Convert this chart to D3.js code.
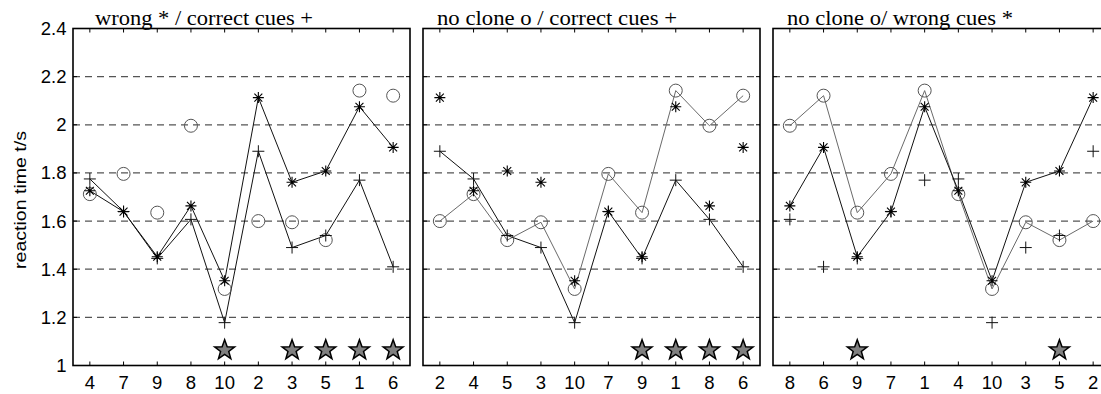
<!DOCTYPE html>
<html>
<head>
<meta charset="utf-8">
<script src="https://cdn.jsdelivr.net/npm/d3@7"></script>
<style>
  body { margin: 0; background: #fff; }
  svg { display: block; }
</style>
</head>
<body>
<svg id="chart" width="1101" height="394"></svg>
<script>
// reaction times per subject (subject id -> seconds)
const subjects = [1, 2, 3, 4, 5, 6, 7, 8, 9, 10];
const correctCues = [1.77, 1.89, 1.49, 1.775, 1.54, 1.41, 1.64, 1.607, 1.445, 1.178];
const wrongCues = [2.075, 2.113, 1.761, 1.726, 1.808, 1.906, 1.639, 1.663, 1.452, 1.352];
const noClone = [2.142, 1.60, 1.595, 1.712, 1.521, 2.121, 1.796, 1.996, 1.635, 1.318];

// subject order and significance marks for each panel
const panelTitles = ["wrong * / correct cues +", "no clone o / correct cues +", "no clone o/ wrong cues *"];
const panelOrders = [
    [4, 7, 9, 8, 10, 2, 3, 5, 1, 6],
    [2, 4, 5, 3, 10, 7, 9, 1, 8, 6],
    [8, 6, 9, 7, 1, 4, 10, 3, 5, 2],
];
const panelStars = [
    [10, 3, 5, 1, 6],
    [9, 1, 8, 6],
    [9, 5],
];
// which series are joined by a line in each panel
const panelLines = [
    ["correct", "wrong"],
    ["noclone", "correct"],
    ["noclone", "wrong"],
];
const yTicks = [1, 1.2, 1.4, 1.6, 1.8, 2, 2.2, 2.4];
const gridValues = [1.2, 1.4, 1.6, 1.8, 2, 2.2];
const starLevel = 1.068;

const series = {
    correct: correctCues,
    wrong: wrongCues,
    noclone: noClone,
};

const svg = d3.select("#chart");
const plotTop = 28.5;
const plotBottom = 365.5;
const panelWidth = 337;
const panelLefts = [73, 423, 773];

const y = d3.scaleLinear().domain([1, 2.4]).range([plotBottom, plotTop]);

const valueOf = (key, s) => series[key][subjects.indexOf(s)];

const plusPath = (r) => `M${-r},0H${r}M0,${-r}V${r}`;
const asteriskPath = (r) => {
    const d = r * 0.72;
    return `M${-r},0H${r}M0,${-r}V${r}M${-d},${-d}L${d},${d}M${-d},${d}L${d},${-d}`;
};
const starPath = (R, r) => {
    let p = "";
    for (let i = 0; i < 10; i++) {
        const a = -Math.PI / 2 + (i * Math.PI) / 5;
        const rad = i % 2 === 0 ? R : r;
        p += (i === 0 ? "M" : "L") + (rad * Math.cos(a)).toFixed(2) + "," + (rad * Math.sin(a)).toFixed(2);
    }
    return p + "Z";
};

const lineColour = { correct: "#111", wrong: "#111", noclone: "#6a6a6a" };

panelOrders.forEach((order, p) => {
    const left = panelLefts[p];
    const x = d3.scalePoint().domain(order).range([left, left + panelWidth]).padding(0.5);
    const g = svg.append("g");

    // dashed grid
    g.selectAll(".grid")
        .data(gridValues)
        .join("line")
        .attr("x1", left)
        .attr("x2", left + panelWidth)
        .attr("y1", (d) => y(d))
        .attr("y2", (d) => y(d))
        .attr("stroke", "#555")
        .attr("stroke-width", 1.3)
        .attr("stroke-dasharray", "7,5");

    // inner ticks on all four sides
    g.selectAll(".xt")
        .data(order)
        .join("path")
        .attr("d", (d) => `M${x(d)},${plotTop}v4M${x(d)},${plotBottom}v-4`)
        .attr("stroke", "#000")
        .attr("stroke-width", 1);
    g.selectAll(".yt")
        .data(yTicks)
        .join("path")
        .attr("d", (d) => `M${left},${y(d)}h4M${left + panelWidth},${y(d)}h-4`)
        .attr("stroke", "#000")
        .attr("stroke-width", 1);

    // connecting lines
    const line = d3.line().x((d) => x(d.s)).y((d) => y(d.v));
    panelLines[p].forEach((key) => {
        g.append("path")
            .datum(order.map((s) => ({ s, v: valueOf(key, s) })))
            .attr("d", line)
            .attr("fill", "none")
            .attr("stroke", lineColour[key])
            .attr("stroke-width", 1);
    });

    // markers
    g.selectAll(".circ")
        .data(order)
        .join("circle")
        .attr("cx", (d) => x(d))
        .attr("cy", (d) => y(valueOf("noclone", d)))
        .attr("r", 6.5)
        .attr("fill", "none")
        .attr("stroke", "#555")
        .attr("stroke-width", 1);
    g.selectAll(".plus")
        .data(order)
        .join("path")
        .attr("transform", (d) => `translate(${x(d)},${y(valueOf("correct", d))})`)
        .attr("d", plusPath(6))
        .attr("stroke", "#111")
        .attr("stroke-width", 1);
    g.selectAll(".ast")
        .data(order)
        .join("path")
        .attr("transform", (d) => `translate(${x(d)},${y(valueOf("wrong", d))})`)
        .attr("d", asteriskPath(5.5))
        .attr("stroke", "#000")
        .attr("stroke-width", 1.1);

    // significance stars
    g.selectAll(".star")
        .data(panelStars[p])
        .join("path")
        .attr("transform", (d) => `translate(${x(d)},${y(starLevel) + 1})`)
        .attr("d", starPath(10.5, 4.3))
        .attr("fill", "#808080")
        .attr("stroke", "#000")
        .attr("stroke-width", 1.5)
        .attr("stroke-linejoin", "miter");

    // box
    g.append("rect")
        .attr("x", left)
        .attr("y", plotTop)
        .attr("width", panelWidth)
        .attr("height", plotBottom - plotTop)
        .attr("fill", "none")
        .attr("stroke", "#000")
        .attr("stroke-width", 1.6);

    // x tick labels
    g.selectAll(".xl")
        .data(order)
        .join("text")
        .attr("x", (d) => x(d))
        .attr("y", 388.5)
        .attr("text-anchor", "middle")
        .attr("font-family", "'Liberation Sans', Arial, sans-serif")
        .attr("font-size", 18.5)
        .text((d) => d);

    // title
    const titleX = [95, 437, 787][p];
    const titleLen = [218, 240, 226][p];
    g.append("text")
        .attr("x", titleX)
        .attr("y", 24.5)
        .attr("font-family", "'Liberation Serif', 'Times New Roman', serif")
        .attr("font-size", 20.5)
        .attr("textLength", titleLen)
        .attr("lengthAdjust", "spacingAndGlyphs")
        .text(panelTitles[p]);
});

// y tick labels on the first panel
svg.selectAll(".yl")
    .data(yTicks)
    .join("text")
    .attr("x", 66.5)
    .attr("y", (d) => y(d) + 6.5)
    .attr("text-anchor", "end")
    .attr("font-family", "'Liberation Sans', Arial, sans-serif")
    .attr("font-size", 18.5)
    .text((d) => (d === 1 || d === 2 ? d3.format("d")(d) : d3.format(".1f")(d)));

svg.append("text")
    .attr("transform", `translate(26,${(plotTop + plotBottom) / 2 + 3}) rotate(-90)`)
    .attr("text-anchor", "middle")
    .attr("font-family", "'Liberation Sans', Arial, sans-serif")
    .attr("font-size", 16)
    .attr("textLength", 138)
    .attr("lengthAdjust", "spacingAndGlyphs")
    .text("reaction time t/s");
</script>
</body>
</html>
